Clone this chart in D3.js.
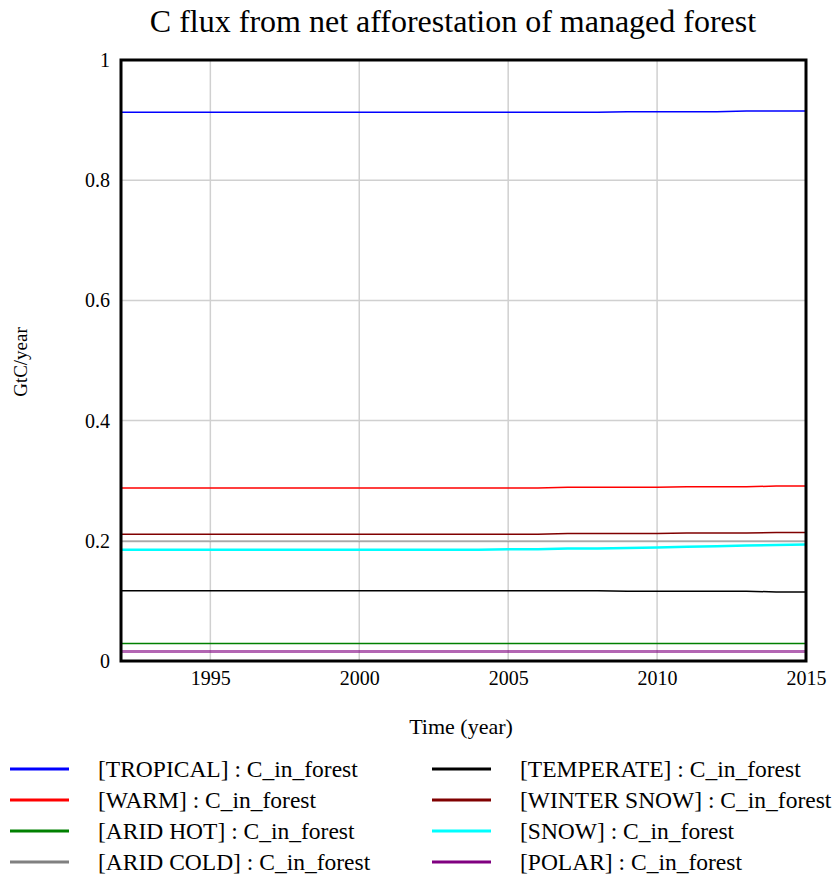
<!DOCTYPE html>
<html>
<head>
<meta charset="utf-8">
<script src="https://cdn.jsdelivr.net/npm/d3@7"></script>
<style>
  body { margin: 0; background: #fff; }
  text { font-family: "Liberation Serif", "Times New Roman", serif; }
</style>
</head>
<body>
<svg id="chart" width="837" height="879"></svg>
<script>
// years 1992..2015
var years = d3.range(1992, 2016);

var regions = ['TROPICAL', 'WARM', 'ARID HOT', 'ARID COLD', 'TEMPERATE', 'WINTER SNOW', 'SNOW', 'POLAR'];
var colors = ['#0000ff', '#ff0000', '#008000', '#808080', '#000000', '#800000', '#00ffff', '#800080'];
var widths = [1.5, 1.5, 1.5, 1.5, 1.5, 1.5, 2.5, 3];

var tropical   = [0.913, 0.913, 0.913, 0.913, 0.913, 0.913, 0.913, 0.913, 0.913, 0.913, 0.913, 0.913, 0.913, 0.913, 0.913, 0.913, 0.913, 0.914, 0.914, 0.914, 0.914, 0.915, 0.915, 0.915];
var warm       = [0.288, 0.288, 0.288, 0.288, 0.288, 0.288, 0.288, 0.288, 0.288, 0.288, 0.288, 0.288, 0.288, 0.288, 0.288, 0.289, 0.289, 0.289, 0.289, 0.290, 0.290, 0.290, 0.291, 0.291];
var aridHot    = [0.029, 0.029, 0.029, 0.029, 0.029, 0.029, 0.029, 0.029, 0.029, 0.029, 0.029, 0.029, 0.029, 0.029, 0.029, 0.029, 0.029, 0.029, 0.029, 0.029, 0.029, 0.029, 0.029, 0.029];
var aridCold   = [0.199, 0.199, 0.199, 0.199, 0.199, 0.199, 0.199, 0.199, 0.199, 0.199, 0.199, 0.199, 0.199, 0.199, 0.199, 0.199, 0.199, 0.199, 0.199, 0.199, 0.199, 0.199, 0.199, 0.199];
var temperate  = [0.117, 0.117, 0.117, 0.117, 0.117, 0.117, 0.117, 0.117, 0.117, 0.117, 0.117, 0.117, 0.117, 0.117, 0.117, 0.117, 0.117, 0.116, 0.116, 0.116, 0.116, 0.116, 0.115, 0.115];
var winterSnow = [0.211, 0.211, 0.211, 0.211, 0.211, 0.211, 0.211, 0.211, 0.211, 0.211, 0.211, 0.211, 0.211, 0.211, 0.211, 0.212, 0.212, 0.212, 0.212, 0.213, 0.213, 0.213, 0.214, 0.214];
var snow       = [0.185, 0.185, 0.185, 0.185, 0.185, 0.185, 0.185, 0.185, 0.185, 0.185, 0.185, 0.185, 0.185, 0.186, 0.186, 0.187, 0.187, 0.188, 0.189, 0.190, 0.191, 0.192, 0.193, 0.194];
var polar      = [0.016, 0.016, 0.016, 0.016, 0.016, 0.016, 0.016, 0.016, 0.016, 0.016, 0.016, 0.016, 0.016, 0.016, 0.016, 0.016, 0.016, 0.016, 0.016, 0.016, 0.016, 0.016, 0.016, 0.016];

var seriesValues = [tropical, warm, aridHot, aridCold, temperate, winterSnow, snow, polar];

var xTicks = [1995, 2000, 2005, 2010, 2015];
var yTicks = [0, 0.2, 0.4, 0.6, 0.8, 1];

var svg = d3.select('#chart');
var pLeft = 121, pRight = 806, pTop = 60, pBottom = 661;

var x = d3.scaleLinear().domain([1992, 2015]).range([pLeft, pRight]);
var y = d3.scaleLinear().domain([0, 1]).range([pBottom, pTop]);

// title
svg.append('text')
  .attr('x', 453).attr('y', 32)
  .attr('text-anchor', 'middle')
  .attr('font-size', 32)
  .text('C flux from net afforestation of managed forest');

// grid
svg.append('g').selectAll('line').data(xTicks).join('line')
  .attr('x1', d => x(d)).attr('x2', d => x(d))
  .attr('y1', pTop).attr('y2', pBottom)
  .attr('stroke', '#d0d0d0').attr('stroke-width', 1.5);
svg.append('g').selectAll('line').data(yTicks.slice(1, -1)).join('line')
  .attr('x1', pLeft).attr('x2', pRight)
  .attr('y1', d => y(d)).attr('y2', d => y(d))
  .attr('stroke', '#d0d0d0').attr('stroke-width', 1.5);

// series lines, polar first so the rest land on top
var line = d3.line().x((d, i) => x(years[i])).y(d => y(d));
var order = [7, 6, 5, 4, 3, 2, 1, 0];
svg.append('g').selectAll('path').data(order).join('path')
  .attr('d', i => line(seriesValues[i]))
  .attr('fill', 'none')
  .attr('stroke', i => colors[i])
  .attr('stroke-opacity', i => i === 7 ? 0.6 : (i === 3 ? 0.6 : 1))
  .attr('stroke-width', i => widths[i]);

// frame
svg.append('rect')
  .attr('x', pLeft).attr('y', pTop)
  .attr('width', pRight - pLeft).attr('height', pBottom - pTop)
  .attr('fill', 'none').attr('stroke', '#000').attr('stroke-width', 3);

// axes
var yAxis = svg.append('g')
  .attr('transform', 'translate(' + pLeft + ',0)')
  .call(d3.axisLeft(y).tickValues(yTicks).tickSize(0).tickPadding(11).tickFormat(d3.format('')));
yAxis.select('.domain').remove();
yAxis.selectAll('text').attr('font-size', 20).attr('font-family', '"Liberation Serif", serif').attr('fill', '#000');

var xAxis = svg.append('g')
  .attr('transform', 'translate(0,' + pBottom + ')')
  .call(d3.axisBottom(x).tickValues(xTicks).tickSize(0).tickPadding(10).tickFormat(d3.format('d')));
xAxis.select('.domain').remove();
xAxis.selectAll('text').attr('font-size', 20).attr('font-family', '"Liberation Serif", serif').attr('fill', '#000');

// axis titles
svg.append('text')
  .attr('transform', 'translate(27,362) rotate(-90)')
  .attr('text-anchor', 'middle')
  .attr('font-size', 19)
  .text('GtC/year');
svg.append('text')
  .attr('x', 461).attr('y', 734)
  .attr('text-anchor', 'middle')
  .attr('font-size', 22)
  .text('Time (year)');

// legend
var legend = svg.append('g').selectAll('g').data(regions).join('g')
  .attr('transform', (d, i) => 'translate(' + (i < 4 ? 10 : 432) + ',' + (769 + (i % 4) * 31) + ')');
legend.append('line')
  .attr('x1', 0).attr('x2', 59)
  .attr('stroke', (d, i) => colors[i])
  .attr('stroke-width', 3);
legend.append('text')
  .attr('x', 88)
  .attr('y', 8)
  .attr('font-size', 23.5)
  .text(d => '[' + d + '] : C_in_forest');
</script>
</body>
</html>
